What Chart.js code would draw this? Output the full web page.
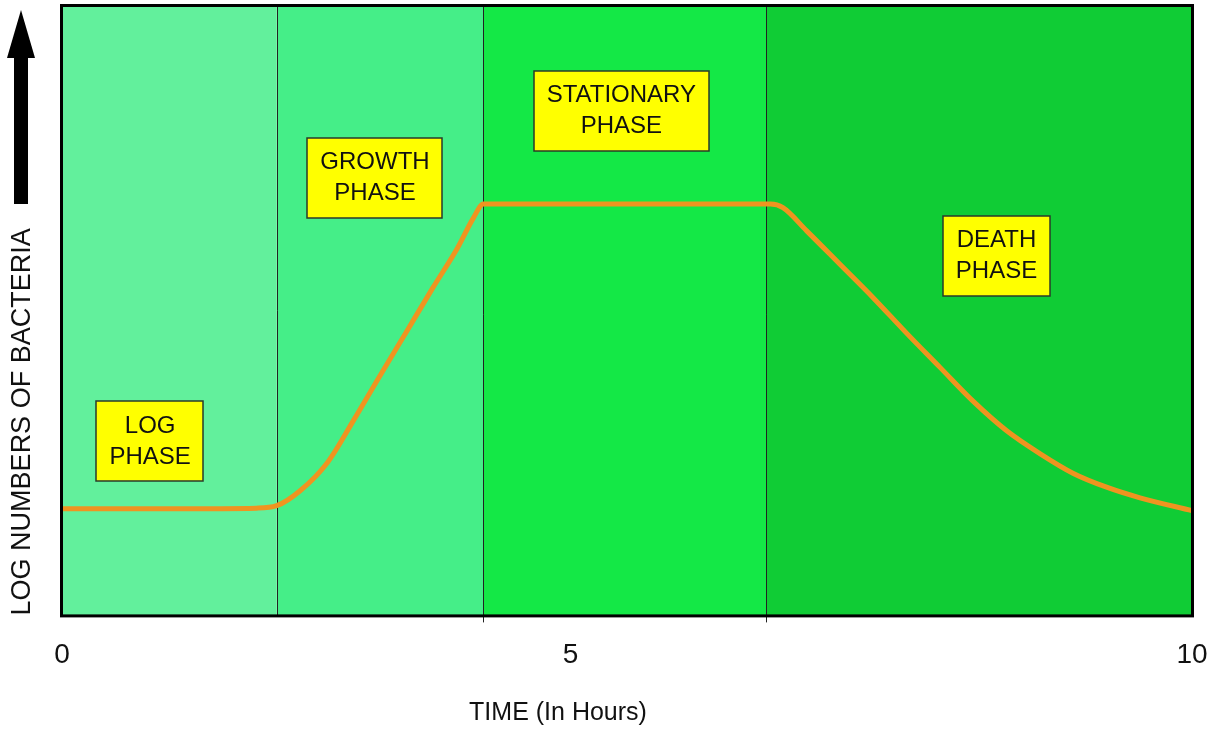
<!DOCTYPE html>
<html>
<head>
<meta charset="utf-8">
<title>Bacterial growth curve</title>
<script src="https://cdn.jsdelivr.net/npm/chart.js@4.4.1/dist/chart.umd.min.js"></script>
<style>
  body { margin: 0; background: #fff; }
  canvas { display: block; }
</style>
</head>
<body>
<canvas id="growthChart" width="1222" height="730"></canvas>
<script>
// curve (y is a relative log count, 0..10)
const hours = [0, 1.0, 1.72, 1.90, 2.11, 2.35, 2.58, 2.81, 3.05, 3.28, 3.50, 3.64, 3.73, 5.0, 6.27, 6.38, 6.59, 6.88, 7.18, 7.48, 7.77, 8.06, 8.36, 8.65, 8.95, 9.25, 9.54, 10]
const logCount = [1.75, 1.75, 1.76, 1.80, 2.05, 2.51, 3.20, 3.92, 4.66, 5.37, 6.03, 6.52, 6.75, 6.75, 6.75, 6.69, 6.31, 5.77, 5.21, 4.62, 4.07, 3.52, 3.03, 2.66, 2.33, 2.10, 1.93, 1.72]

// phases
const phaseEdges = [0, 1.90, 3.73, 6.23, 10]
const phaseLabels = [['LOG', 'PHASE'], ['GROWTH', 'PHASE'], ['STATIONARY', 'PHASE'], ['DEATH', 'PHASE']]

// x axis ticks (the "5" sits left of the middle in the original)
const xTickValues = [0, 4.5, 10]
const xTickLabels = ['0', '5', '10']

const FONT = 'Liberation Sans, Arial, sans-serif'
const phaseColors = ['#62F09C', '#45EE88', '#14E846', '#10CC35']
const labelCenters = [[0.78, 2.86], [2.77, 7.18], [4.95, 8.28], [8.27, 5.90]]

const phasePlugin = {
  id: 'phases',
  beforeDatasetsDraw(chart) {
    const {ctx, chartArea: a, scales: {x}} = chart
    ctx.save()
    for (let i = 0; i < phaseColors.length; i++) {
      const x0 = x.getPixelForValue(phaseEdges[i])
      const x1 = x.getPixelForValue(phaseEdges[i + 1])
      ctx.fillStyle = phaseColors[i]
      ctx.fillRect(x0, a.top, x1 - x0, a.bottom - a.top)
    }
    ctx.strokeStyle = '#222'
    ctx.lineWidth = 1
    for (let i = 1; i < phaseEdges.length - 1; i++) {
      const px = Math.round(x.getPixelForValue(phaseEdges[i])) + 0.5
      ctx.beginPath()
      ctx.moveTo(px, a.top)
      ctx.lineTo(px, a.bottom + (i > 1 ? 7 : 0))
      ctx.stroke()
    }
    ctx.restore()
  },
  afterDatasetsDraw(chart) {
    const {ctx, chartArea: a, scales: {x, y}} = chart
    ctx.save()

    // yellow phase boxes
    ctx.font = '24px ' + FONT
    ctx.textAlign = 'center'
    ctx.textBaseline = 'middle'
    phaseLabels.forEach((lines, i) => {
      const cx = x.getPixelForValue(labelCenters[i][0])
      const cy = y.getPixelForValue(labelCenters[i][1])
      const w = Math.max(...lines.map(t => ctx.measureText(t).width)) + 26
      const h = 80
      ctx.fillStyle = '#FFFF00'
      ctx.fillRect(Math.round(cx - w / 2), Math.round(cy - h / 2), Math.round(w), h)
      ctx.strokeStyle = '#2a3a2a'
      ctx.lineWidth = 1.5
      ctx.strokeRect(Math.round(cx - w / 2), Math.round(cy - h / 2), Math.round(w), h)
      ctx.fillStyle = '#111'
      lines.forEach((t, j) => ctx.fillText(t, cx, cy - 15 + j * 31))
    })

    // frame
    ctx.strokeStyle = '#000'
    ctx.lineWidth = 3
    ctx.strokeRect(a.left - 0.5, a.top - 0.5, a.right - a.left + 1, a.bottom - a.top + 1)

    // arrow beside the y title
    ctx.fillStyle = '#000'
    ctx.fillRect(14, 56, 14, 148)
    ctx.beginPath()
    ctx.moveTo(21, 10)
    ctx.lineTo(35, 58)
    ctx.lineTo(7, 58)
    ctx.closePath()
    ctx.fill()

    // x title
    ctx.font = '25px ' + FONT
    ctx.fillStyle = '#111'
    ctx.fillText('TIME (In Hours)', 558, 713)
    ctx.restore()
  }
}

new Chart(document.getElementById('growthChart'), {
  type: 'line',
  data: {
    datasets: [{
      label: 'bacteria',
      data: hours.map((h, i) => ({x: h, y: logCount[i]})),
      borderColor: '#EF9420',
      borderWidth: 5,
      pointRadius: 0,
      cubicInterpolationMode: 'monotone',
      fill: false
    }]
  },
  options: {
    responsive: false,
    animation: false,
    layout: {padding: {top: 6, right: 30, bottom: 35, left: 0}},
    plugins: {
      legend: {display: false},
      tooltip: {enabled: false}
    },
    scales: {
      x: {
        type: 'linear',
        min: 0,
        max: 10,
        border: {display: false},
        grid: {display: false, drawTicks: false},
        afterBuildTicks(scale) {
          scale.ticks = xTickValues.map(v => ({value: v}))
        },
        afterFit(scale) {
          // labels at both ends fit in the margins already
          scale.paddingLeft = 0
          scale.paddingRight = 0
        },
        ticks: {
          padding: 23,
          color: '#111',
          font: {family: FONT, size: 28},
          autoSkip: false,
          maxRotation: 0,
          callback: (v, i) => xTickLabels[i]
        }
      },
      y: {
        min: 0,
        max: 10,
        border: {display: false},
        grid: {display: false, drawTicks: false},
        ticks: {display: false},
        title: {
          display: true,
          text: 'LOG NUMBERS OF BACTERIA',
          align: 'start',
          color: '#111',
          font: {family: FONT, size: 27, lineHeight: 1},
          padding: {top: 9, bottom: 26}
        }
      }
    }
  },
  plugins: [phasePlugin]
})
</script>
</body>
</html>
